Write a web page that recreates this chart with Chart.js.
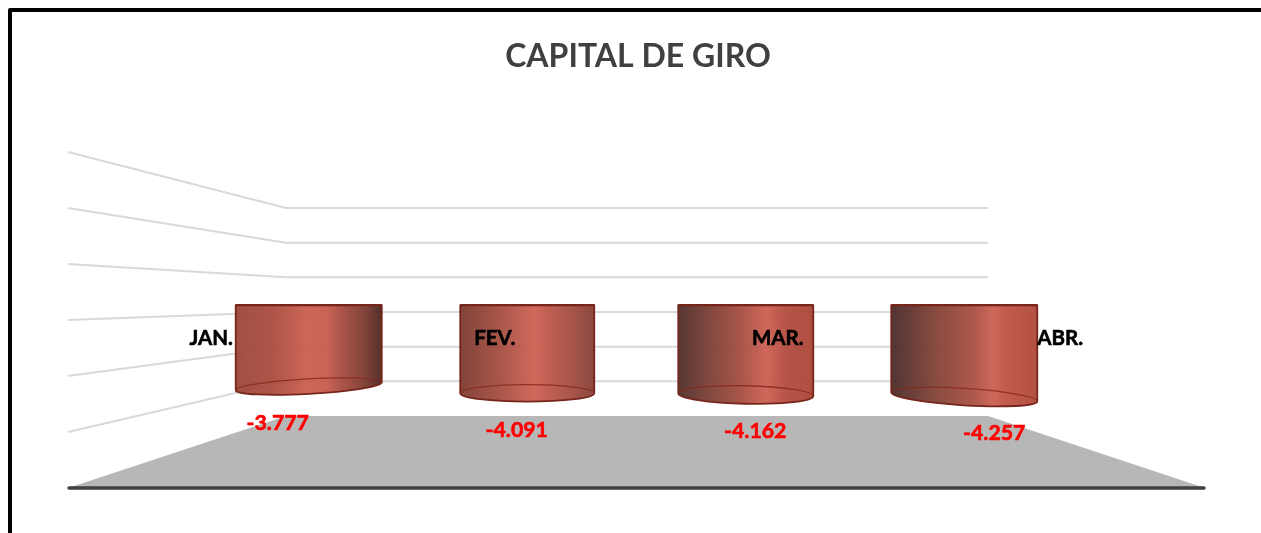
<!DOCTYPE html>
<html lang="pt">
<head>
<meta charset="utf-8">
<title>Capital de Giro</title>
<script src="https://cdn.jsdelivr.net/npm/chart.js@4/dist/chart.umd.min.js"></script>
<style>
html,body{margin:0;padding:0;background:#fff;overflow:hidden;width:1261px;height:533px}
#frame{position:absolute;left:8px;top:8px;width:1300px;height:600px;border:4px solid #000;box-sizing:border-box;border-radius:2px}
#c{position:absolute;left:0;top:0}
</style>
</head>
<body>
<div id="frame"></div>
<canvas id="c" width="1261" height="533"></canvas>
<script>
const CATEGORIES = ["JAN.", "FEV.", "MAR.", "ABR."];
const VALUES = [-3777, -4091, -4162, -4257];
const VALUE_LABELS = ["-3.777", "-4.091", "-4.162", "-4.257"];
const GRID_VALUES = [-5100, -3517, -1933, -350, 1233, 2817, 4400];
const TITLE = "CAPITAL DE GIRO";

// perspective styling of the cylinders (one entry per category)
const BAR_WIDTHS = [146, 134, 135, 146];
const BASE_TILT = [-0.055, 0, 0.022, 0.0615];
const BASE_RY = [7.5, 8.5, 9, 8.5];
const CAT_OFFSET = [-97.5, -32.5, 32, 96];
const VAL_OFFSET = [-31, -10.5, 9.5, 30];
const GRADIENTS = [
  [[0,"#9c4639"],[0.25,"#a94c3e"],[0.5,"#cb5f50"],[0.62,"#c75c4e"],[0.72,"#a94c40"],[0.88,"#7c3a30"],[1,"#4a2620"]],
  [[0,"#7a3a30"],[0.28,"#a34c3f"],[0.55,"#ce6153"],[0.66,"#bb5749"],[0.85,"#a04b40"],[1,"#853f35"]],
  [[0,"#4d2e2a"],[0.22,"#7a3e34"],[0.45,"#a34c3f"],[0.65,"#cc6052"],[0.8,"#b24b3d"],[1,"#aa4537"]],
  [[0,"#482a28"],[0.3,"#824237"],[0.55,"#a74e41"],[0.7,"#ca6052"],[0.78,"#be5345"],[1,"#ae4738"]]
];
const BAR_EDGE = "#76261a";
const WALL = {backX: 286, frontX: 68, rightX: 988, floorRightX: 1205, depth: 1.615, floorFront: 488};

// Cylinder rendering of each bar, positioned by the scales through the element's x / y / base
Chart.BarElement.prototype.draw = function (ctx) {
  const i = this.barIndex;
  const cx = this.x, top = this.base + 0.7, bot = this.y - 0.7;
  const hw = BAR_WIDTHS[i] / 2, a = BASE_TILT[i], ry = BASE_RY[i];
  const rx = hw / Math.cos(a), dy = hw * Math.tan(a);
  const g = ctx.createLinearGradient(cx - hw, 0, cx + hw, 0);
  GRADIENTS[i].forEach(s => g.addColorStop(s[0], s[1]));
  ctx.save();
  ctx.beginPath();
  ctx.moveTo(cx - hw, top);
  ctx.lineTo(cx + hw, top);
  ctx.lineTo(cx + hw, bot + dy);
  ctx.ellipse(cx, bot, rx, ry, a, 0, Math.PI, false);
  ctx.closePath();
  ctx.globalAlpha = 0.95;
  ctx.fillStyle = g;
  ctx.fill();
  ctx.globalAlpha = 1;
  ctx.strokeStyle = BAR_EDGE;
  ctx.lineWidth = 1.8;
  ctx.lineJoin = "round";
  ctx.stroke();
  ctx.beginPath();
  ctx.moveTo(cx - hw, top);
  ctx.lineTo(cx + hw, top);
  ctx.lineWidth = 2.2;
  ctx.stroke();
  ctx.beginPath();
  ctx.ellipse(cx, bot, rx, ry, a, Math.PI, 2 * Math.PI, false);
  ctx.strokeStyle = "#86291b";
  ctx.globalAlpha = 0.85;
  ctx.lineWidth = 1.3;
  ctx.stroke();
  ctx.restore();
};

const scene3d = {
  id: "scene3d",
  afterLayout(chart) {
    chart.titleBlock.right += 3;
  },
  beforeDatasetsDraw(chart) {
    const {ctx, scales: {y}} = chart;
    chart.getDatasetMeta(0).data.forEach((b, i) => { b.barIndex = i; });
    const floorBack = y.getPixelForValue(GRID_VALUES[0]);
    ctx.save();
    ctx.fillStyle = "#b7b7b7";
    ctx.beginPath();
    ctx.moveTo(WALL.frontX, WALL.floorFront);
    ctx.lineTo(WALL.backX, floorBack);
    ctx.lineTo(WALL.rightX, floorBack);
    ctx.lineTo(WALL.floorRightX, WALL.floorFront);
    ctx.closePath();
    ctx.fill();
    ctx.strokeStyle = "#d9d9d9";
    ctx.lineWidth = 2;
    GRID_VALUES.slice(1).forEach(v => {
      const py = y.getPixelForValue(v);
      ctx.beginPath();
      ctx.moveTo(WALL.frontX, WALL.floorFront - (floorBack - py) * WALL.depth);
      ctx.lineTo(WALL.backX, py);
      ctx.lineTo(WALL.rightX, py);
      ctx.stroke();
    });
    ctx.strokeStyle = "#404040";
    ctx.lineWidth = 3.4;
    ctx.lineCap = "round";
    ctx.beginPath();
    ctx.moveTo(WALL.frontX + 1, WALL.floorFront);
    ctx.lineTo(WALL.floorRightX - 1, WALL.floorFront);
    ctx.stroke();
    ctx.restore();
  },
  afterDatasetsDraw(chart) {
    const {ctx} = chart;
    const bars = chart.getDatasetMeta(0).data;
    const top = chart.scales.y.getPixelForValue(0);
    const heavyText = (text, x, y, color) => {
      ctx.fillStyle = color;
      ctx.strokeStyle = color;
      ctx.lineWidth = 0.6;
      ctx.strokeText(text, x, y);
      ctx.fillText(text, x, y);
    };
    ctx.save();
    ctx.textAlign = "center";
    ctx.textBaseline = "middle";
    bars.forEach((b, i) => {
      ctx.font = "bold 20.5px Lato";
      heavyText(CATEGORIES[i], b.x + CAT_OFFSET[i], top + 34, "#000000");
      ctx.font = "bold 21.3px Lato";
      heavyText(VALUE_LABELS[i], b.x + VAL_OFFSET[i], b.y + 36, "#ff0000");
    });
    ctx.restore();
  }
};

new Chart(document.getElementById("c"), {
  type: "bar",
  data: {labels: CATEGORIES, datasets: [{label: TITLE, data: VALUES, backgroundColor: "#b54f41"}]},
  plugins: [scene3d],
  options: {
    responsive: false,
    animation: false,
    layout: {padding: {left: 199.5, right: 187.5, top: 37, bottom: 117}},
    plugins: {
      legend: {display: false},
      tooltip: {enabled: false},
      title: {
        display: true,
        text: TITLE,
        color: "#404040",
        font: {family: "Lato", size: 32, weight: "bold", lineHeight: 1.2},
        padding: {top: 0, bottom: 132.6}
      }
    },
    scales: {
      x: {display: false, grid: {display: false}},
      y: {
        display: false,
        min: GRID_VALUES[0],
        max: GRID_VALUES[GRID_VALUES.length - 1],
        afterBuildTicks(s) { s.ticks = GRID_VALUES.map(v => ({value: v})); }
      }
    }
  }
});
</script>
</body>
</html>
